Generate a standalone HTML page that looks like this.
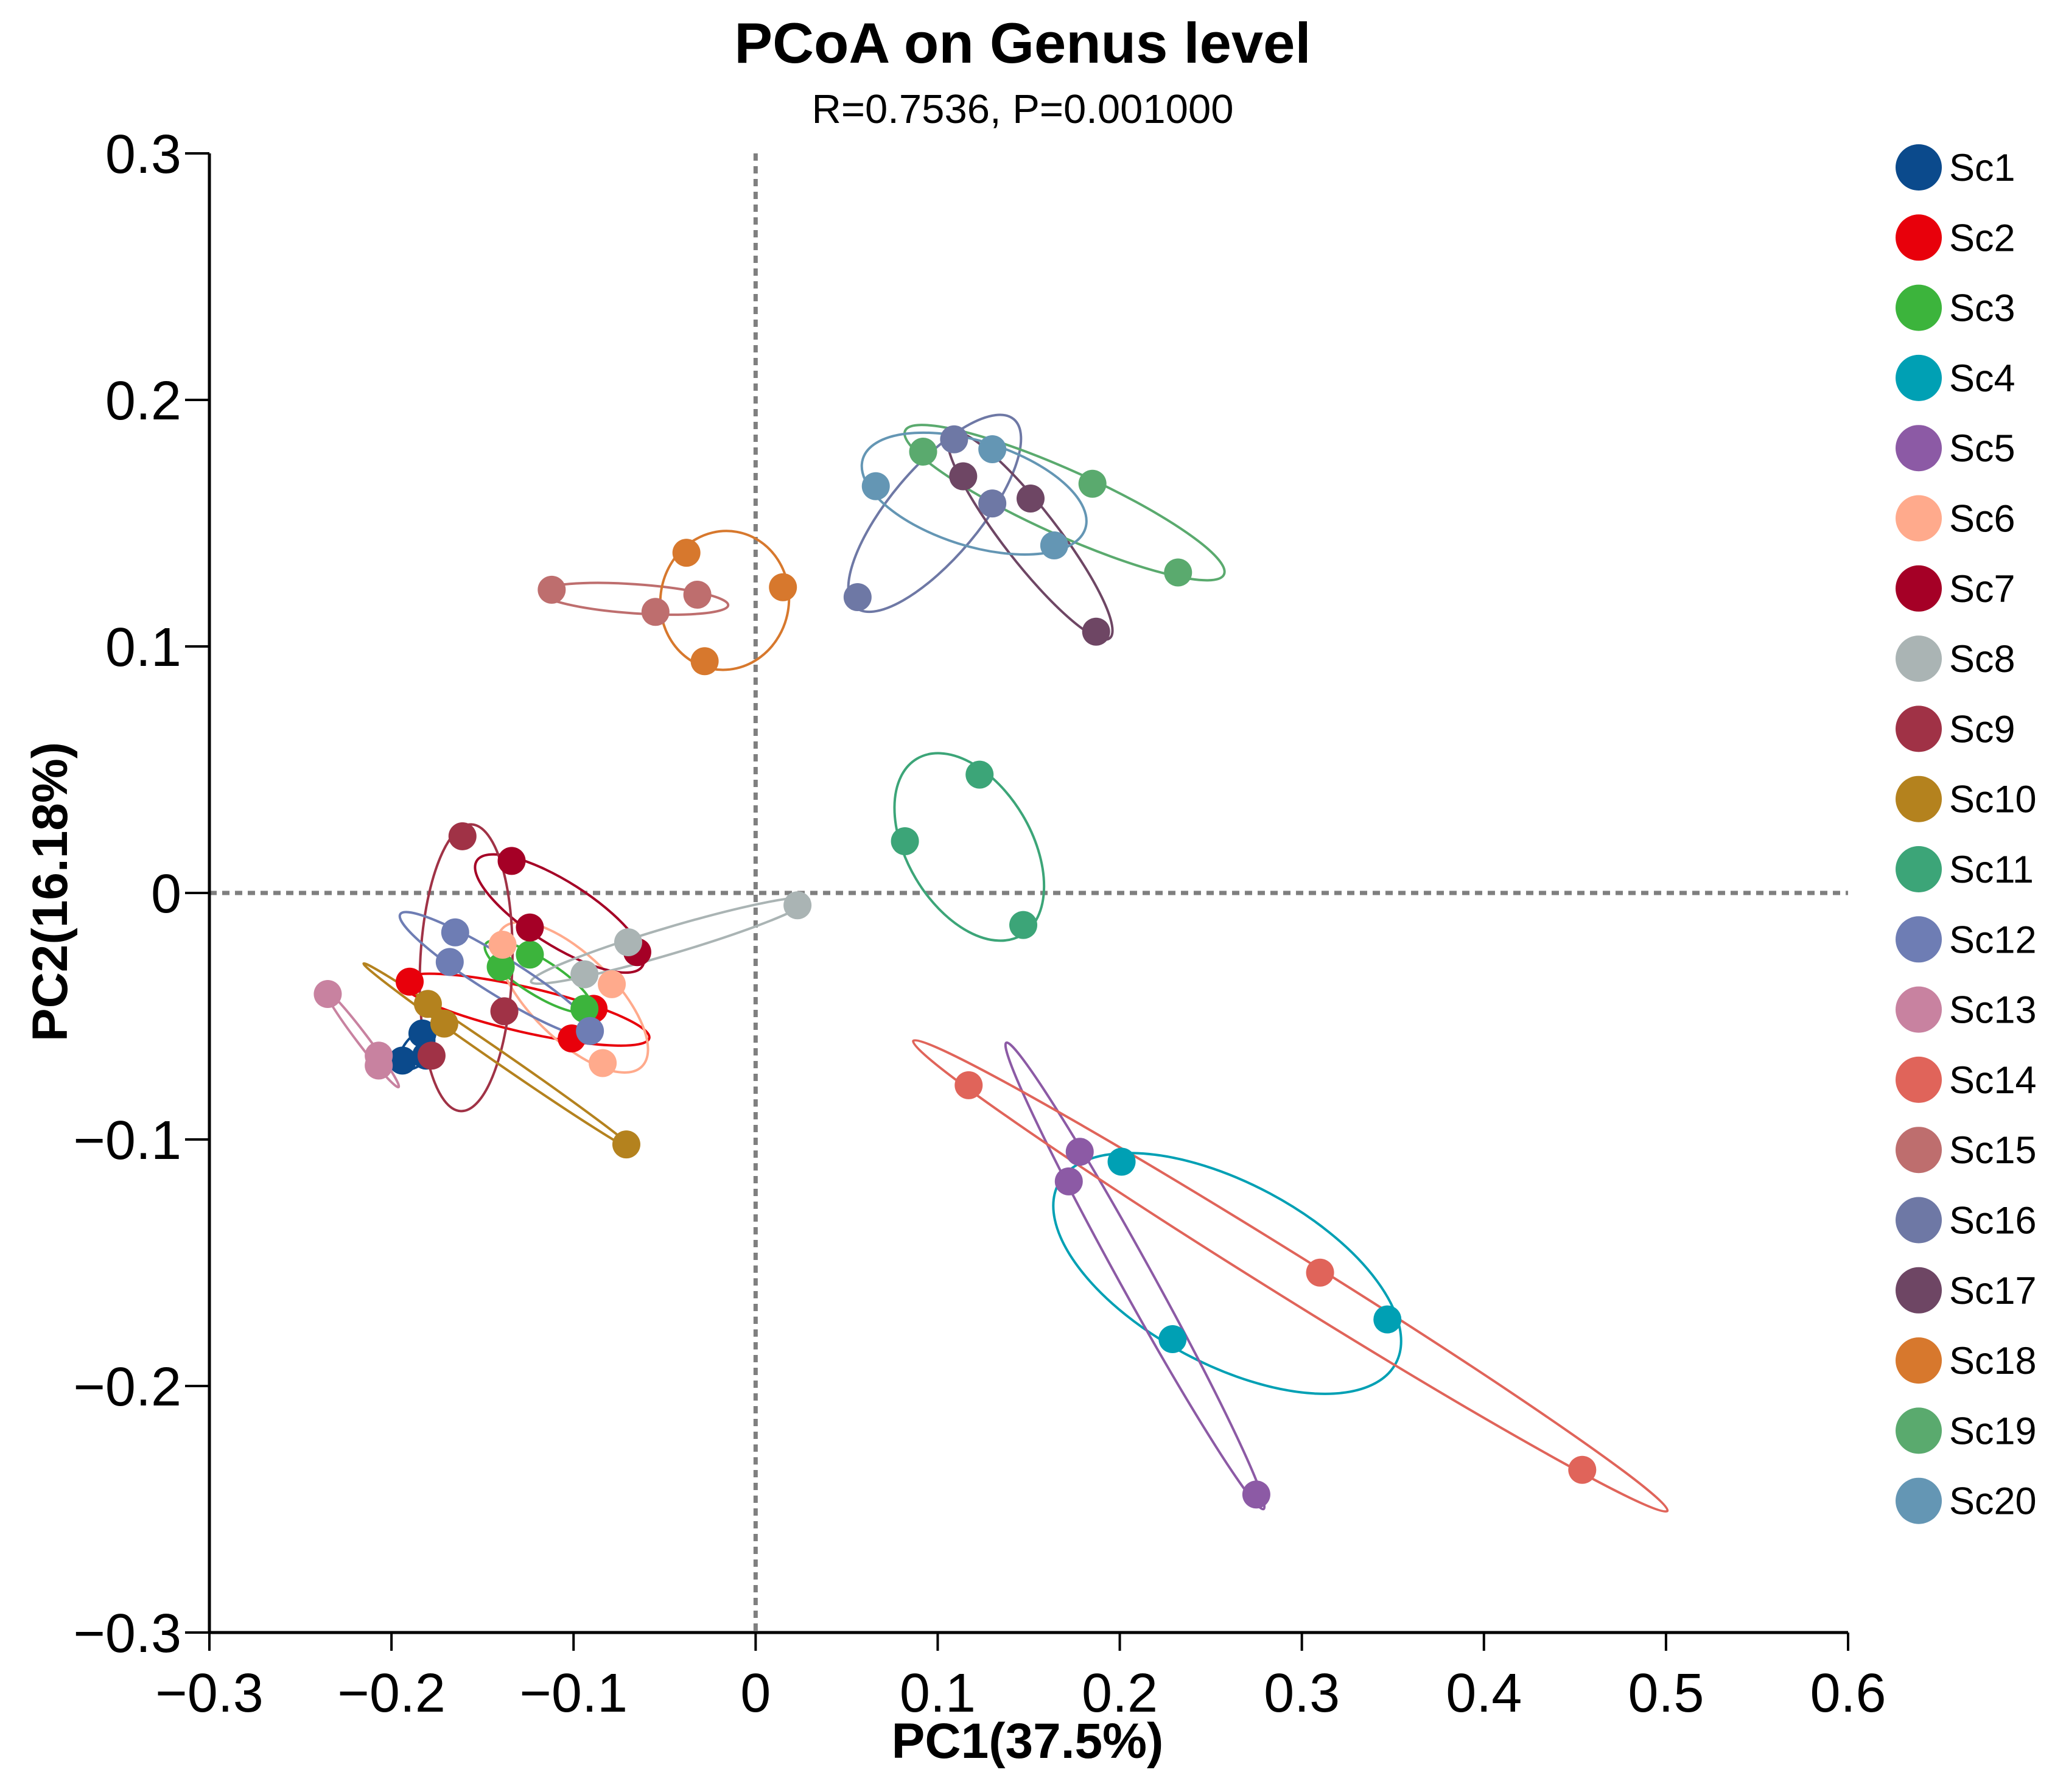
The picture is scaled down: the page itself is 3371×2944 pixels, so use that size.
<!DOCTYPE html>
<html><head><meta charset="utf-8"><style>
body{margin:0;background:#fff}
svg text{font-family:"Liberation Sans",sans-serif}
</style></head><body>
<svg id="chart" width="3371" height="2939" viewBox="0 0 3371 2939" xmlns="http://www.w3.org/2000/svg">
<rect width="3371" height="2939" fill="#fff"/>
<text x="1680" y="103" font-size="94" font-weight="bold" text-anchor="middle">PCoA on Genus level</text>
<text x="1680" y="202" font-size="67" text-anchor="middle">R=0.7536, P=0.001000</text>
<g id="grid"></g><g id="ellipses"></g><g id="points"></g><g id="axes"></g><g id="legend"></g>
<text x="1688" y="2888" font-size="82" font-weight="bold" text-anchor="middle">PC1(37.5%)</text>
<text transform="translate(110,1465) rotate(-90)" font-size="82" font-weight="bold" text-anchor="middle">PC2(16.18%)</text>
</svg>
<script>
const groups=["Sc1","Sc2","Sc3","Sc4","Sc5","Sc6","Sc7","Sc8","Sc9","Sc10","Sc11","Sc12","Sc13","Sc14","Sc15","Sc16","Sc17","Sc18","Sc19","Sc20"];
const colors=["#0b4a8c","#e8000b","#3cb43c","#00a0b4","#8c5aa5","#ffaa8c","#a50026","#aab4b4","#a03246","#b4821e","#3ca578","#6e7db4","#c882a0","#e0645a","#be6e6e","#6e78a5","#6e4664","#d7782d","#5aaa6e","#6496b4"];
const pc1=[[-0.194,-0.183,-0.181],[-0.190,-0.101,-0.089],[-0.140,-0.124,-0.094],[0.201,0.347,0.229],[0.178,0.172,0.275],[-0.139,-0.079,-0.084],[-0.134,-0.124,-0.065],[0.023,-0.070,-0.094],[-0.161,-0.138,-0.178],[-0.180,-0.171,-0.071],[0.123,0.082,0.147],[-0.165,-0.168,-0.091],[-0.235,-0.207,-0.207],[0.117,0.310,0.454],[-0.112,-0.055,-0.032],[0.109,0.130,0.056],[0.114,0.151,0.187],[-0.038,0.015,-0.028],[0.092,0.185,0.232],[0.066,0.130,0.164]];
const pc2=[[-0.068,-0.057,-0.066],[-0.036,-0.059,-0.047],[-0.030,-0.025,-0.047],[-0.109,-0.173,-0.181],[-0.105,-0.117,-0.244],[-0.021,-0.037,-0.069],[0.013,-0.014,-0.024],[-0.005,-0.020,-0.033],[0.023,-0.048,-0.066],[-0.045,-0.053,-0.102],[0.048,0.021,-0.013],[-0.016,-0.028,-0.056],[-0.041,-0.066,-0.070],[-0.078,-0.154,-0.234],[0.123,0.114,0.121],[0.184,0.158,0.120],[0.169,0.160,0.106],[0.138,0.124,0.094],[0.179,0.166,0.130],[0.165,0.180,0.141]];
const xTicks=[-0.3,-0.2,-0.1,0,0.1,0.2,0.3,0.4,0.5,0.6];
const yTicks=[-0.3,-0.2,-0.1,0,0.1,0.2,0.3];
const xTickLabels=["\u22120.3","\u22120.2","\u22120.1","0","0.1","0.2","0.3","0.4","0.5","0.6"];
const yTickLabels=["\u22120.3","\u22120.2","\u22120.1","0","0.1","0.2","0.3"];
const X0=344,X1=3036,Y0=2682,Y1=252;
const sx=v=>X0+(v+0.3)/0.9*(X1-X0);
const sy=v=>Y0-(v+0.3)/0.6*(Y0-Y1);
const NS="http://www.w3.org/2000/svg";
function mk(tag,parent,attrs){const e=document.createElementNS(NS,tag);for(const k in attrs)e.setAttribute(k,attrs[k]);parent.appendChild(e);return e;}
const grid=document.getElementById('grid'),ell=document.getElementById('ellipses'),pts=document.getElementById('points'),axes=document.getElementById('axes'),leg=document.getElementById('legend');
let l=mk('line',grid,{x1:sx(0),x2:sx(0),y1:Y1,y2:Y0,stroke:'#7f7f7f','stroke-width':7,'stroke-dasharray':'12 9'});

l=mk('line',grid,{x1:X0,x2:X1,y1:sy(0),y2:sy(0),stroke:'#7f7f7f','stroke-width':7,'stroke-dasharray':'12 9'});

groups.forEach((g,i)=>{
  const px=pc1[i].map(sx),py=pc2[i].map(sy),n=px.length;
  const mx=px.reduce((a,b)=>a+b)/n,my=py.reduce((a,b)=>a+b)/n;
  let a=0,b=0,c=0;for(let j=0;j<n;j++){const dx=px[j]-mx,dy=py[j]-my;a+=dx*dx;b+=dx*dy;c+=dy*dy;}
  a/=n-1;b/=n-1;c/=n-1;
  const tr=(a+c)/2,det=Math.sqrt(((a-c)/2)**2+b*b);
  const l1=tr+det,l2=Math.max(tr-det,4);
  const ang=Math.atan2(l1-a,b||1e-9)*180/Math.PI;
  const k=1.22;
  const e=mk('ellipse',ell,{cx:mx,cy:my,rx:k*Math.sqrt(l1)+3,ry:k*Math.sqrt(l2)+3,transform:`rotate(${b===0&&a>=c?0:ang} ${mx} ${my})`,fill:'none',stroke:colors[i],'stroke-width':4});
  
  
  for(let j=0;j<n;j++){
    const p=mk('circle',pts,{cx:px[j],cy:py[j],r:23,fill:colors[i]});
    
    
  }
  const lc=mk('circle',leg,{cx:3152,cy:275+i*115.3,r:38,fill:colors[i]});
  
  
  const lt=mk('text',leg,{x:3202,y:275+i*115.3+22,'font-size':63});
  lt.textContent=g;
  
  
});
l=mk('line',axes,{x1:X0,x2:X0,y1:Y1,y2:Y0,stroke:'#000','stroke-width':5});

l=mk('line',axes,{x1:X0,x2:X1,y1:Y0,y2:Y0,stroke:'#000','stroke-width':5});

xTicks.forEach((v,i)=>{
  const t=mk('line',axes,{x1:sx(v),x2:sx(v),y1:Y0,y2:Y0+30,stroke:'#000','stroke-width':4});
  
  const tx=mk('text',axes,{x:sx(v),y:2812,'font-size':90,'text-anchor':'middle'});
  tx.textContent=xTickLabels[i];
  
});
yTicks.forEach((v,i)=>{
  const t=mk('line',axes,{x1:X0-40,x2:X0,y1:sy(v),y2:sy(v),stroke:'#000','stroke-width':4});
  
  const tx=mk('text',axes,{x:298,y:sy(v)+32,'font-size':90,'text-anchor':'end'});
  tx.textContent=yTickLabels[i];
  
});
</script>
</body></html>
